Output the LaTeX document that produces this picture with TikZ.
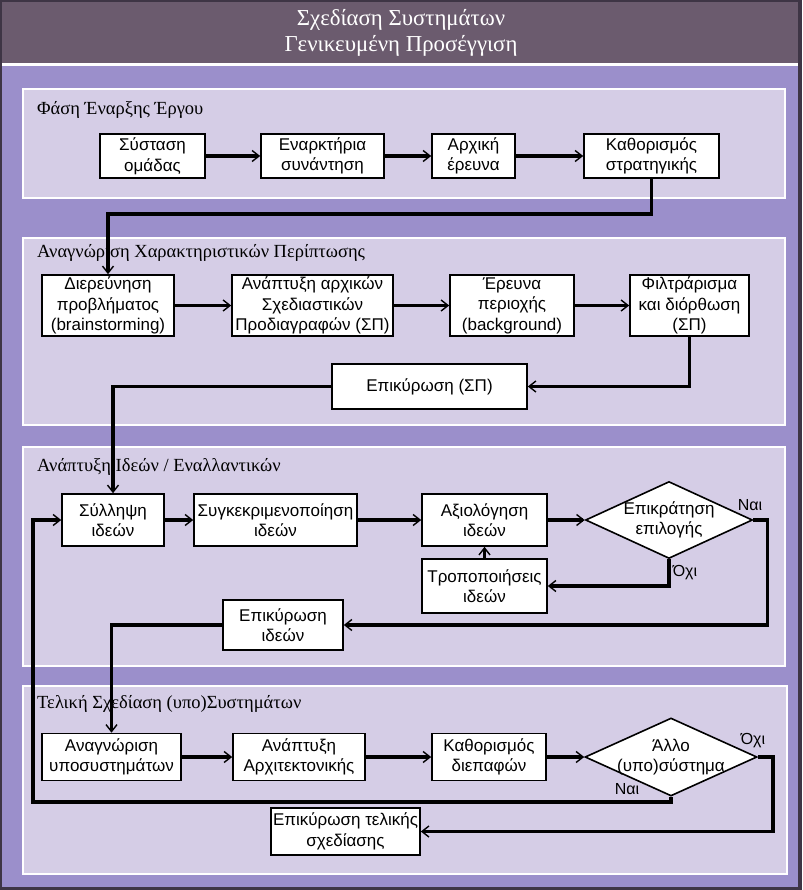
\documentclass[tikz,border=0pt]{standalone}
\usepackage{fontspec}
\setmainfont{Liberation Serif}
\newfontfamily\sansgr{Liberation Sans}
\usetikzlibrary{arrows.meta,shapes.geometric}
\definecolor{framec}{HTML}{3E3545}
\definecolor{bandc}{HTML}{6B5B6E}
\definecolor{bgc}{HTML}{9B8FCB}
\definecolor{panelc}{HTML}{D5CDE6}
\begin{document}
\begin{tikzpicture}[x=1pt,y=-1pt,
  box/.style={draw,fill=white,line width=1.6pt,font=\sansgr\fontsize{17}{20.5}\selectfont,align=center,inner sep=0pt},
  dia/.style={draw,fill=white,line width=1.6pt,diamond,inner sep=0pt},
  arr/.style={line width=3.5pt,-{Straight Barb[length=7pt,width=11pt,line width=1.4pt]}},
  panel/.style={draw=white,line width=1.5pt,fill=panelc},
  ptitle/.style={anchor=west,font=\fontsize{18.5}{22}\selectfont,inner sep=0pt},
  lab/.style={font=\sansgr\fontsize{16}{19}\selectfont,inner sep=0pt}]
\useasboundingbox (0,0) rectangle (802,890);
% background
\fill[framec] (0,0) rectangle (802,890);
\fill[bandc] (2,2) rectangle (798,63);
\fill[white] (2,63) rectangle (798,66);
\fill[bgc] (2,66) rectangle (798,887);
\draw[panel] (23,89) rectangle (785,198);
\draw[panel] (23,238) rectangle (785,425);
\draw[panel] (23,447) rectangle (785,666);
\draw[panel] (23,686) rectangle (787,874);
% title
\node[font=\fontsize{22.8}{26}\selectfont,text=white,align=center] (title) at (401,33) {Σχεδίαση Συστημάτων\\Γενικευμένη Προσέγγιση};
% panel titles
\node[ptitle] (t1) at (37,110) {Φάση Έναρξης Έργου};
\node[ptitle] (t2) at (37,253) {Αναγνώριση Χαρακτηριστικών Περίπτωσης};
\node[ptitle] (t3) at (37,467) {Ανάπτυξη Ιδεών / Εναλλαντικών};
\node[ptitle] (t4) at (37,704) {Τελική Σχεδίαση (υπο)Συστημάτων};
% panel 1
\node[box,minimum width=105pt,minimum height=44pt] (sO) at (152.5,156) {Σύσταση\\ομάδας};
\node[box,minimum width=123pt,minimum height=44pt] (sE) at (322.5,156) {Εναρκτήρια\\συνάντηση};
\node[box,minimum width=83pt,minimum height=44pt] (sA) at (473.5,156) {Αρχική\\έρευνα};
\node[box,minimum width=135pt,minimum height=44pt] (sK) at (651.5,156) {Καθορισμός\\στρατηγικής};
% panel 2
\node[box,minimum width=132pt,minimum height=61pt] (dP) at (108,305.5) {Διερεύνηση\\προβλήματος\\(brainstorming)};
\node[box,minimum width=161pt,minimum height=61pt] (aS) at (312.5,305.5) {Ανάπτυξη αρχικών\\Σχεδιαστικών\\Προδιαγραφών (ΣΠ)};
\node[box,minimum width=124pt,minimum height=61pt] (eP) at (512,305.5) {Έρευνα\\περιοχής\\(background)};
\node[box,minimum width=119pt,minimum height=61pt] (fD) at (689.5,305.5) {Φιλτράρισμα\\και διόρθωση\\(ΣΠ)};
\node[box,minimum width=195pt,minimum height=45pt] (vS) at (429.5,386.5) {Επικύρωση (ΣΠ)};
% panel 3
\node[box,minimum width=102pt,minimum height=52pt] (sy) at (113,520) {Σύλληψη\\ιδεών};
\node[box,minimum width=163pt,minimum height=52pt] (sg) at (275.5,520) {Συγκεκριμενοποίηση\\ιδεών};
\node[box,minimum width=125pt,minimum height=52pt] (ax) at (484.5,520) {Αξιολόγηση\\ιδεών};
\node[dia,minimum width=167pt,minimum height=77pt,
  label={[box,draw=none,fill=none]center:Επικράτηση\\επιλογής}] (dm1) at (669,520) {};
\node[box,minimum width=125pt,minimum height=54pt] (tr) at (484.5,586) {Τροποποιήσεις\\ιδεών};
\node[box,minimum width=120pt,minimum height=50pt] (ev) at (283,625) {Επικύρωση\\ιδεών};
% panel 4
\node[box,minimum width=139pt,minimum height=47pt] (ag) at (111.5,757) {Αναγνώριση\\υποσυστημάτων};
\node[box,minimum width=132pt,minimum height=47pt] (aa) at (299,757) {Ανάπτυξη\\Αρχιτεκτονικής};
\node[box,minimum width=114pt,minimum height=47pt] (kd) at (489,757) {Καθορισμός\\διεπαφών};
\node[dia,minimum width=172pt,minimum height=78pt,
  label={[box,draw=none,fill=none]center:Άλλο\\(υπο)σύστημα}] (dm2) at (671,757) {};
\node[box,minimum width=149pt,minimum height=47pt] (et) at (345.5,831.5) {Επικύρωση τελικής\\σχεδίασης};
\coordinate (lp) at (33,520);
% connectors
\draw[arr] (sO) -- (sE);
\draw[arr] (sE) -- (sA);
\draw[arr] (sA) -- (sK);
\draw[arr] (sK.south) -- ++(0,35) -| (dP.north);
\draw[arr] (dP) -- (aS);
\draw[arr] (aS) -- (eP);
\draw[arr] (eP) -- (fD);
\draw[arr] (fD.south) |- (vS.east);
\draw[arr] (vS.west) -| (sy.north);
\draw[arr] (sy) -- (sg);
\draw[arr] (sg) -- (ax);
\draw[arr] (ax) -- (dm1);
\draw[arr] (dm1.south) |- (tr.east);
\draw[arr] (tr) -- (ax);
\draw[arr] (dm1.east) -- ++(14,0) |- (ev.east);
\draw[arr] (ev.west) -| (ag.north);
\draw[arr] (ag) -- (aa);
\draw[arr] (aa) -- (kd);
\draw[arr] (kd) -- (dm2);
\draw[arr] (dm2.east) -- ++(15,0) |- (et.east);
\draw[arr] (dm2.south) -- ++(0,5) -| (lp) -- (sy.west);
% labels
\node[lab] (l1) at (750,505) {Ναι};
\node[lab] (l2) at (685,573) {Όχι};
\node[lab] (l3) at (753,741) {Όχι};
\node[lab] (l4) at (627,789) {Ναι};
\end{tikzpicture}
\end{document}
